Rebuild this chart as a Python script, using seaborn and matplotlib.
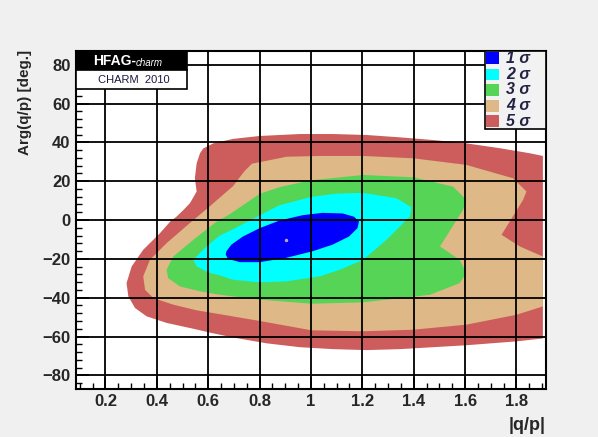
import matplotlib
matplotlib.use('Agg')
import matplotlib.pyplot as plt
from matplotlib.patches import Rectangle
from matplotlib.ticker import MultipleLocator
import seaborn as sns

# contour outlines, (|q/p|, Arg(q/p) in degrees)
sigma5_x = [0.555, 0.548, 0.555, 0.568, 0.581, 0.620, 0.697, 0.801, 0.957, 1.086, 1.216,
            1.346, 1.476, 1.605, 1.735, 1.852, 1.903, 1.903, 1.800, 1.605, 1.476, 1.346,
            1.216, 1.086, 0.957, 0.827, 0.697, 0.607, 0.542, 0.438, 0.360, 0.315, 0.289,
            0.282, 0.302, 0.347, 0.412, 0.452, 0.477, 0.503, 0.529]
sigma5_y = [14.7, 21.5, 29.2, 34.4, 36.9, 39.5, 41.8, 43.3, 44.3, 44.3, 43.8,
            42.6, 41.2, 39.5, 37.0, 34.4, 33.0, -61.0, -62.5, -64.5, -65.5, -66.5,
            -67.0, -66.5, -65.5, -63.5, -60.5, -58.0, -56.0, -53.0, -49.6, -45.3, -39.3,
            -32.5, -23.9, -15.3, -6.8, -0.8, 1.8, 5.1, 8.7]

sigma4_x = [0.770, 0.905, 1.035, 1.203, 1.398, 1.605, 1.787, 1.839, 1.826, 1.742, 1.813,
            1.903, 1.903, 1.800, 1.605, 1.398, 1.203, 1.002, 0.801, 0.645, 0.555, 0.464,
            0.386, 0.354, 0.347, 0.373, 0.438, 0.529, 0.610, 0.697, 0.740]
sigma4_y = [29.0, 32.6, 33.0, 33.0, 31.8, 28.4, 21.5, 14.7, 10.4, -7.6, -13.6,
            -18.8, -44.5, -48.8, -53.9, -56.5, -57.3, -56.8, -52.0, -48.5, -46.5, -43.6,
            -40.2, -35.9, -29.0, -20.5, -11.9, -1.5, 7.5, 17.5, 25.0]

sigma3_x = [0.879, 1.002, 1.203, 1.398, 1.553, 1.605, 1.592, 1.502, 1.579, 1.605, 1.579,
            1.463, 1.203, 1.002, 0.801, 0.645, 0.568, 0.490, 0.444, 0.438, 0.464, 0.542,
            0.633, 0.684, 0.801]
sigma3_y = [17.0, 20.5, 23.2, 22.0, 17.2, 10.4, 5.2, -13.6, -20.5, -27.3, -32.5,
            -38.5, -42.4, -43.1, -41.0, -38.5, -36.7, -34.2, -29.9, -25.6, -18.8, -10.2,
            -0.8, 3.0, 13.5]

sigma2_x = [0.645, 0.700, 0.801, 0.877, 1.000, 1.097, 1.203, 1.333, 1.391, 1.385, 1.294,
            1.203, 1.112, 1.035, 0.905, 0.801, 0.697, 0.645, 0.600, 0.555, 0.542, 0.568,
            0.600]
sigma2_y = [-8.0, -4.5, 2.5, 7.6, 11.9, 13.6, 14.0, 11.2, 6.6, 1.8, -10.2,
            -20.5, -25.6, -29.0, -31.6, -32.1, -30.8, -28.5, -27.0, -23.9, -20.5, -16.9,
            -12.8]

sigma1_x = [0.671, 0.690, 0.735, 0.800, 0.877, 0.968, 1.045, 1.123, 1.168, 1.187, 1.181,
            1.148, 1.084, 1.006, 0.903, 0.800, 0.723, 0.677, 0.668]
sigma1_y = [-16.1, -12.7, -8.5, -4.2, -0.3, 2.5, 3.7, 3.4, 1.7, -0.8, -4.2,
            -8.5, -12.7, -16.1, -19.5, -21.7, -21.7, -20.0, -17.8]

best_fit = (0.903, -10.2)

levels = ['1 σ', '2 σ', '3 σ', '4 σ', '5 σ']
colors = ['#0000ff', '#00ffff', '#55d455', '#deb887', '#cd5c5c']
outlines = [(sigma1_x, sigma1_y), (sigma2_x, sigma2_y), (sigma3_x, sigma3_y),
            (sigma4_x, sigma4_y), (sigma5_x, sigma5_y)]

sns.set_style('white')
plt.rcParams['font.family'] = ['Liberation Sans', 'DejaVu Sans']

fig = plt.figure(figsize=(5.98, 4.37), dpi=100, facecolor='#f0f0f0')
ax = fig.add_axes([0.127, 0.110, 0.786, 0.773])
ax.set_facecolor('white')

# outermost first so the inner regions sit on top
for (xs, ys), col in list(zip(outlines, colors))[::-1]:
    ax.fill(xs, ys, color=col, lw=0, zorder=1)
ax.plot(*best_fit, marker='o', ms=1.5, color='#c0a0c0', zorder=2)

ax.set_xlim(0.085, 1.915)
ax.set_ylim(-87, 87)
ax.set_xticks([0.2, 0.4, 0.6, 0.8, 1.0, 1.2, 1.4, 1.6, 1.8])
ax.set_xticklabels(['0.2', '0.4', '0.6', '0.8', '1', '1.2', '1.4', '1.6', '1.8'])
ax.xaxis.set_minor_locator(MultipleLocator(0.05))
ax.yaxis.set_major_locator(MultipleLocator(20))
ax.yaxis.set_minor_locator(MultipleLocator(4))
ax.grid(True, which='major', color='black', lw=1.3, zorder=3)
ax.set_axisbelow(False)
ax.tick_params(which='both', direction='in', color='black',
               bottom=True, left=True, top=False, right=False)
ax.tick_params(which='major', length=9, width=1.2, labelsize=12, pad=4)
ax.tick_params(which='minor', length=4.5, width=1.0)
for lab in ax.get_xticklabels() + ax.get_yticklabels():
    lab.set_fontweight('bold')
for sp in ax.spines.values():
    sp.set_color('black')
    sp.set_linewidth(1.5)
    sp.set_zorder(5)

fig.text(0.913, 0.027, '|q/p|', ha='right', va='center', fontsize=13, fontweight='bold')
fig.text(0.042, 0.885, 'Arg(q/p) [deg.]', ha='center', va='top', rotation=90,
         fontsize=11, fontweight='bold')

# HFAG logo box
ax.add_patch(Rectangle((0, 0.945), 0.236, 0.055, transform=ax.transAxes,
                       facecolor='black', edgecolor='black', lw=1.2, zorder=6))
ax.add_patch(Rectangle((0, 0.888), 0.236, 0.057, transform=ax.transAxes,
                       facecolor='white', edgecolor='black', lw=1.2, zorder=6))
ax.text(0.036, 0.971, 'HFAG-', transform=ax.transAxes, color='white', fontsize=10,
        fontweight='bold', va='center', ha='left', zorder=7)
ax.text(0.127, 0.966, 'charm', transform=ax.transAxes, color='white', fontsize=7,
        fontstyle='italic', va='center', ha='left', zorder=7)
ax.text(0.123, 0.915, 'CHARM  2010', transform=ax.transAxes, color='#1a1a40', fontsize=8,
        va='center', ha='center', zorder=7)

# legend box, drawn by hand to match the ROOT layout
ax.add_patch(Rectangle((0.870, 0.769), 0.130, 0.231, transform=ax.transAxes,
                       facecolor='#f2f2f2', edgecolor='black', lw=1.2, zorder=6))
row_y = [0.979, 0.931, 0.885, 0.838, 0.793]
for yy, col, lab in zip(row_y, colors, levels):
    ax.add_patch(Rectangle((0.873, yy - 0.017), 0.028, 0.034, transform=ax.transAxes,
                           facecolor=col, edgecolor='none', zorder=7))
    ax.text(0.915, yy, lab, transform=ax.transAxes, fontsize=11.5, fontstyle='italic',
            fontweight='bold', color='#222244', va='center', ha='left', zorder=7)

fig.savefig('out.png', dpi=100, facecolor=fig.get_facecolor())
